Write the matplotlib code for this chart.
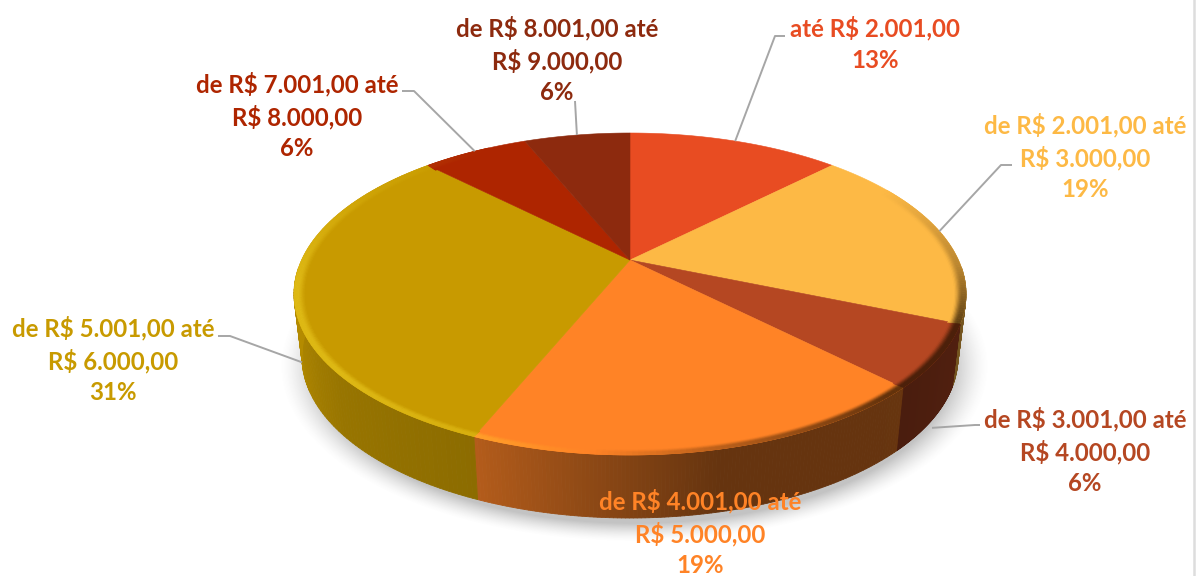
import numpy as np
import matplotlib
matplotlib.use("Agg")
import matplotlib.pyplot as plt
from matplotlib.collections import PolyCollection
from matplotlib.colors import to_rgb

# =========================
# DATA
# =========================
COUNTS = [2, 3, 1, 3, 5, 1, 1]
RANGES = [
    "até R$ 2.001,00",
    "de R$ 2.001,00 até\nR$ 3.000,00",
    "de R$ 3.001,00 até\nR$ 4.000,00",
    "de R$ 4.001,00 até\nR$ 5.000,00",
    "de R$ 5.001,00 até\nR$ 6.000,00",
    "de R$ 7.001,00 até\nR$ 8.000,00",
    "de R$ 8.001,00 até\nR$ 9.000,00",
]
COLORS = ["#E84C22", "#FDB945", "#B54722", "#FF8326", "#C89A00", "#AE2500", "#8D2A0E"]

# =========================
# LAYOUT (pixels)
# =========================
W, H = 1199, 576
CX, CY, RX, RY = 630, 294, 336, 161     # top face
BX, BY, BRX, BRY = 630, 357, 328, 161   # bottom of the wall
APEX_SHIFT = 0.211                      # perspective: how far the centre moves back
WALL_ANCHOR_UP = 8                      # leader end sits this far below the wall's lower edge

LABEL_POS = [(875, 44), (1085, 157), (1085, 451), (700, 533), (113, 360), (297, 116), (557, 60)]
ELBOWS = [(775, 36), (1001, 165), (975, 425), None, (230, 336), (414, 91), (575, 101)]
ELBOW_ENDS = [(785, 36), (1012, 165), (980, 425), None, (218, 336), (402, 91), None]
ON_WALL = [False, False, True, False, True, False, False]


def rim_angle(theta):
    # true pie angle (deg, clockwise from top) -> angle on the drawn ellipse
    t = np.radians(theta)
    x, y = np.sin(t), np.cos(t)
    d = 1 + APEX_SHIFT * y
    xp = x * np.sqrt(1 - APEX_SHIFT ** 2) / d
    yp = (y + APEX_SHIFT) / d
    return np.degrees(np.arctan2(xp, yp)) % 360


def on_ellipse(phi, cx, cy, rx, ry, s=1.0):
    p = np.radians(phi)
    return cx + s * rx * np.sin(p), cy - s * ry * np.cos(p)


def mix(c, other, a):
    return tuple((1 - a) * np.array(c) + a * np.array(other))


plt.rcParams["font.family"] = ["Lato", "DejaVu Sans"]

fig = plt.figure(figsize=(W / 100, H / 100), dpi=100)
ax = fig.add_axes([0, 0, 1, 1])
ax.set_xlim(0, W)
ax.set_ylim(H, 0)
ax.axis("off")

# =========================
# SLICE ANGLES
# =========================
counts = np.array(COUNTS, dtype=float)
edges = np.concatenate([[0], np.cumsum(counts)]) / counts.sum() * 360
starts = edges[:-1]
ends = edges[1:]
mids = (starts + ends) / 2


def rim_range(a, b, n=90):
    pa = float(rim_angle(a))
    pb = float(rim_angle(b)) if b < 360 else 360.0
    if pb <= pa:
        pb += 360
    return np.linspace(pa, pb, n)


# =========================
# SHADOW
# =========================
yy, xx = np.mgrid[0:H, 0:W]
d = np.sqrt(((xx - 634) / 338) ** 2 + ((yy - 366) / 167) ** 2)
shadow = np.zeros((H, W, 4))
shadow[..., :3] = 0.45
shadow[..., 3] = 0.42 * np.clip((1.05 - d) / 0.11, 0, 1) ** 1.5
ax.imshow(shadow, extent=(0, W, H, 0), zorder=1, aspect="auto", interpolation="bilinear")

# =========================
# WALL
# =========================
wall_phi = [92, 100, 130, 165, 207, 240, 270]
wall_fac = [0.50, 0.45, 0.40, 0.40, 0.70, 0.76, 0.90]

quads, fc = [], []
for color, a, b in zip(COLORS, starts, ends):
    rgb = to_rgb(color)
    phis = rim_range(a, b, 120)
    phis = phis[(phis % 360 > 80) & (phis % 360 < 280)]
    for p0, p1 in zip(phis[:-1], phis[1:]):
        x0, y0 = on_ellipse(p0, CX, CY, RX, RY)
        x1, y1 = on_ellipse(p1, CX, CY, RX, RY)
        x2, y2 = on_ellipse(p1, BX, BY, BRX, BRY)
        x3, y3 = on_ellipse(p0, BX, BY, BRX, BRY)
        quads.append([(x0, y0), (x1, y1), (x2, y2), (x3, y3)])
        fac = np.interp((p0 + p1) / 2 % 360, wall_phi, wall_fac)
        fc.append(mix(rgb, (0, 0, 0), 1 - fac))
ax.add_collection(PolyCollection(quads, facecolors=fc, edgecolors=fc, linewidths=0.6, zorder=2))

# =========================
# TOP FACE
# =========================
for color, a, b in zip(COLORS, starts, ends):
    phis = rim_range(a, b)
    x, y = on_ellipse(phis, CX, CY, RX, RY)
    apex = (CX, CY - APEX_SHIFT * RY)
    pts = np.column_stack([np.r_[apex[0], x], np.r_[apex[1], y]])
    ax.fill(pts[:, 0], pts[:, 1], color=color, lw=0.4, zorder=3)

# bevel along the rim: bright on the left, dark on the right
bevel_phi = [0, 50, 80, 100, 130, 165, 207, 240, 275, 310, 335, 360]
bevel_val = [0.0, 0.0, -0.3, -0.7, -0.7, -0.3, 0.28, 0.42, 0.42, 0.12, 0.0, 0.0]
rings = np.linspace(0.962, 1.0, 11)
t = np.linspace(0, 1, 10)
profile = np.clip(t / 0.75, 0, 1) ** 2 * (3 - 2 * np.clip(t / 0.75, 0, 1))
quads, fc = [], []
for color, a, b in zip(COLORS, starts, ends):
    rgb = to_rgb(color)
    phis = rim_range(a, b, 80)
    for p0, p1 in zip(phis[:-1], phis[1:]):
        val = np.interp((p0 + p1) / 2 % 360, bevel_phi, bevel_val)
        if val == 0:
            continue
        for k in range(len(rings) - 1):
            x0, y0 = on_ellipse(p0, CX, CY, RX, RY, rings[k])
            x1, y1 = on_ellipse(p1, CX, CY, RX, RY, rings[k])
            x2, y2 = on_ellipse(p1, CX, CY, RX, RY, rings[k + 1])
            x3, y3 = on_ellipse(p0, CX, CY, RX, RY, rings[k + 1])
            quads.append([(x0, y0), (x1, y1), (x2, y2), (x3, y3)])
            v = val * profile[k]
            if v > 0:
                fc.append(mix(rgb, (1.0, 0.9, 0.2), v))
            else:
                fc.append(mix(rgb, (0.12, 0.06, 0.0), -v))
ax.add_collection(PolyCollection(quads, facecolors=fc, edgecolors=fc, linewidths=0.4, zorder=4))

# =========================
# LEADERS + LABELS
# =========================
total = counts.sum()
for i, (name, color) in enumerate(zip(RANGES, COLORS)):
    pct = int(100 * counts[i] / total + 0.5)
    lx, ly = LABEL_POS[i]
    ax.text(lx, ly, f"{name}\n{pct}%", color=color, fontsize=17.3, fontweight="bold",
            ha="center", va="center", linespacing=1.41, zorder=7)

    if ELBOWS[i] is None:
        continue
    phi = float(rim_angle(mids[i]))
    if ON_WALL[i]:
        sx, sy = on_ellipse(phi, BX, BY + WALL_ANCHOR_UP, BRX, BRY)
    else:
        sx, sy = on_ellipse(phi, CX, CY, RX, RY)
    px, py = [sx, ELBOWS[i][0]], [sy, ELBOWS[i][1]]
    if ELBOW_ENDS[i] is not None:
        px.append(ELBOW_ENDS[i][0])
        py.append(ELBOW_ENDS[i][1])
    ax.plot(px, py, color="#A6A6A6", lw=1.4, zorder=6, solid_capstyle="butt")

# thin grey edge on the right of the picture
ax.axvline(1194, color="#DDDDDD", lw=1.8, zorder=8)

ax.set_xlim(0, W)
ax.set_ylim(H, 0)
fig.savefig("out.png", dpi=100)
